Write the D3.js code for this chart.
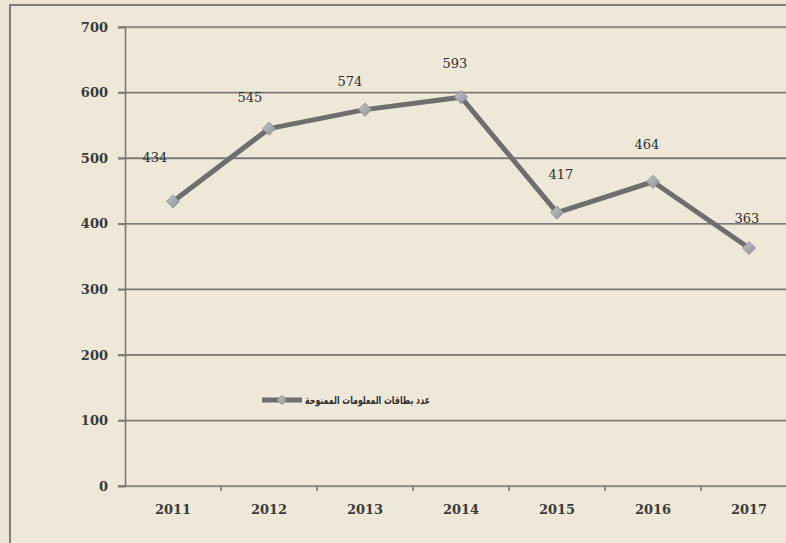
<!DOCTYPE html>
<html>
<head>
<meta charset="utf-8">
<script src="https://cdn.jsdelivr.net/npm/d3@7"></script>
<style>
  html, body { margin: 0; padding: 0; background: #ede7d7; }
  svg { display: block; }
</style>
</head>
<body>
<div id="chart"></div>
<script>
const years = ["2011", "2012", "2013", "2014", "2015", "2016", "2017"];
const cards = [434, 545, 574, 593, 417, 464, 363];
const yTicks = [0, 100, 200, 300, 400, 500, 600, 700];
const seriesName = "عدد بطاقات المعلومات الممنوحة";

// hand placed data labels (like the original)
const labelDx = [-18, -19, -15, -6, 4, -6, -2];
const labelDy = [-44, -31, -28, -34, -38, -37, -30];

const size = { width: 786, height: 543 };
const margin = { top: 27, bottom: 57, left: 125, right: -11 };

const svg = d3
  .select("#chart")
  .append("svg")
  .attr("width", size.width)
  .attr("height", size.height);

svg
  .append("rect")
  .attr("width", size.width)
  .attr("height", size.height)
  .attr("fill", "#ece5d4");

// outer frame, runs off the right and bottom edge
svg
  .append("rect")
  .attr("x", 10)
  .attr("y", 5)
  .attr("width", size.width + 20)
  .attr("height", size.height + 20)
  .attr("fill", "#eee8d9")
  .attr("stroke", "#7d7d7d")
  .attr("stroke-width", 2);

const x = d3
  .scaleBand()
  .domain(years)
  .range([margin.left, size.width - margin.right])
  .padding(0);

const y = d3
  .scaleLinear()
  .domain([0, 700])
  .range([size.height - margin.bottom, margin.top]);

const font = "'DejaVu Serif', 'Liberation Serif', serif";

// grid lines
const grid = svg.append("g");
yTicks.forEach((v) => {
  grid
    .append("line")
    .attr("x1", margin.left - 7)
    .attr("x2", size.width)
    .attr("y1", y(v) + 1)
    .attr("y2", y(v) + 1)
    .attr("stroke", "#c9c3b3")
    .attr("stroke-width", 1);
  grid
    .append("line")
    .attr("x1", margin.left - 7)
    .attr("x2", size.width)
    .attr("y1", y(v))
    .attr("y2", y(v))
    .attr("stroke", "#7a7a7a")
    .attr("stroke-width", 1.6);
});

// y axis
const yAxis = svg
  .append("g")
  .attr("transform", `translate(${margin.left},0)`)
  .call(d3.axisLeft(y).tickValues(yTicks).tickSize(7).tickPadding(10));
yAxis.select(".domain").attr("stroke", "#7a7a7a").attr("stroke-width", 1.6);
yAxis.selectAll(".tick line").attr("stroke", "#7a7a7a").attr("stroke-width", 1.6);
yAxis
  .selectAll(".tick text")
  .attr("fill", "#3a3a3a")
  .style("font-family", font)
  .style("font-weight", "bold")
  .style("font-size", "13px");

// x axis
const xAxis = svg
  .append("g")
  .attr("transform", `translate(0,${y(0)})`)
  .call(d3.axisBottom(x).tickSize(0).tickPadding(19));
xAxis.select(".domain").remove();
xAxis
  .selectAll(".tick text")
  .attr("fill", "#3a3a3a")
  .style("font-family", font)
  .style("font-weight", "bold")
  .style("font-size", "13px");

// small ticks between categories
svg
  .append("g")
  .selectAll("line")
  .data(years.slice(1))
  .join("line")
  .attr("x1", (d) => x(d))
  .attr("x2", (d) => x(d))
  .attr("y1", y(0))
  .attr("y2", y(0) + 5)
  .attr("stroke", "#7a7a7a")
  .attr("stroke-width", 1.6);

const data = years.map((yr, i) => ({ year: yr, value: cards[i], i }));

const defs = svg.append("defs");
const grad = defs
  .append("linearGradient")
  .attr("id", "markerFill")
  .attr("x1", "0%")
  .attr("y1", "0%")
  .attr("x2", "100%")
  .attr("y2", "100%");
grad.append("stop").attr("offset", "0%").attr("stop-color", "#c4c8cc");
grad.append("stop").attr("offset", "100%").attr("stop-color", "#8c9094");

const line = d3
  .line()
  .x((d) => x(d.year) + x.bandwidth() / 2)
  .y((d) => y(d.value));

svg
  .append("path")
  .datum(data)
  .attr("d", line)
  .attr("fill", "none")
  .attr("stroke", "#6e6e6e")
  .attr("stroke-width", 5)
  .attr("stroke-linejoin", "round");

const diamond = d3.symbol().type(d3.symbolDiamond2).size(110);

svg
  .append("g")
  .selectAll("path")
  .data(data)
  .join("path")
  .attr("d", diamond)
  .attr("transform", (d) => `translate(${x(d.year) + x.bandwidth() / 2},${y(d.value)})`)
  .attr("fill", "url(#markerFill)")
  .attr("stroke", "#8a8a8a")
  .attr("stroke-width", 0.8);

svg
  .append("g")
  .selectAll("text")
  .data(data)
  .join("text")
  .text((d) => d.value)
  .attr("x", (d) => x(d.year) + x.bandwidth() / 2 + labelDx[d.i])
  .attr("y", (d) => y(d.value) + labelDy[d.i])
  .attr("dy", "0.35em")
  .attr("text-anchor", "middle")
  .attr("fill", "#2e2e2e")
  .style("font-family", font)
  .style("font-size", "13px");

// legend
const legend = svg.append("g").attr("transform", "translate(262,400)");
legend
  .append("line")
  .attr("x1", 0)
  .attr("x2", 40)
  .attr("stroke", "#6e6e6e")
  .attr("stroke-width", 5);
legend
  .append("path")
  .attr("d", d3.symbol().type(d3.symbolDiamond2).size(60))
  .attr("transform", "translate(20,0)")
  .attr("fill", "url(#markerFill)")
  .attr("stroke", "#8a8a8a")
  .attr("stroke-width", 0.6);
legend
  .append("text")
  .text(seriesName)
  .attr("x", 43)
  .attr("y", 0)
  .attr("dy", "0.35em")
  .attr("text-anchor", "start")
  .attr("textLength", 125)
  .attr("lengthAdjust", "spacingAndGlyphs")
  .attr("fill", "#2e2e2e")
  .style("font-family", "'DejaVu Sans', sans-serif")
  .style("font-size", "11px")
  .style("font-weight", "bold");
</script>
</body>
</html>
